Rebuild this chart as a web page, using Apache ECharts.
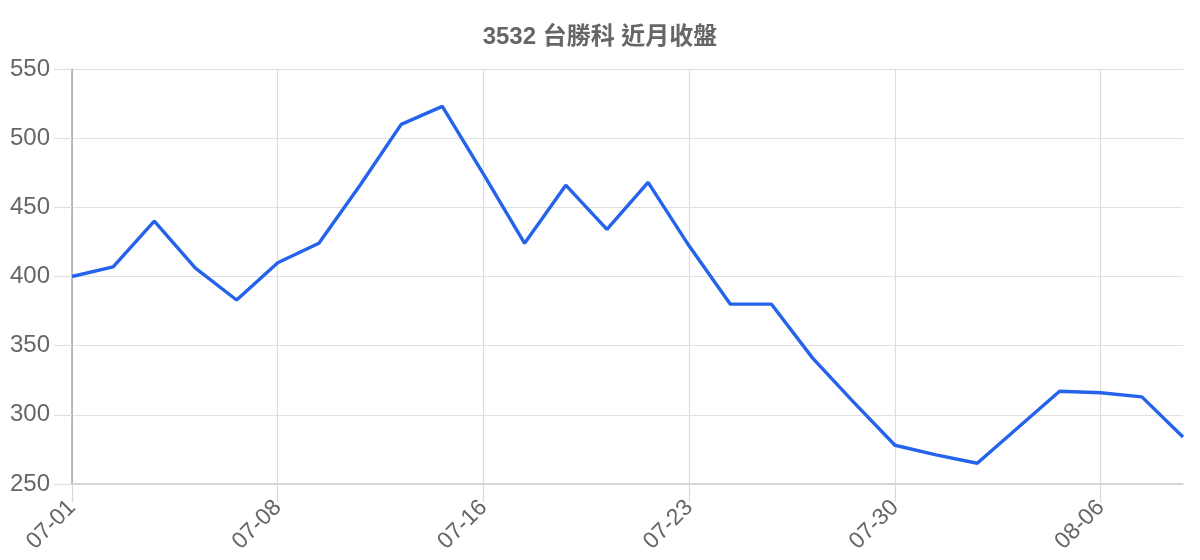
<!DOCTYPE html>
<html>
<head>
<meta charset="utf-8">
<script src="https://cdn.jsdelivr.net/npm/echarts@6/dist/echarts.min.js"></script>
<style>
  html, body { margin: 0; padding: 0; background: #fff; }
  #main { width: 1200px; height: 560px; }
</style>
</head>
<body>
<div id="main"></div>
<script>
// 交易日與收盤價
var dates = ['07-01', '07-02', '07-03', '07-04', '07-07', '07-08', '07-09', '07-10', '07-11', '07-14',
             '07-16', '07-17', '07-18', '07-21', '07-22', '07-23', '07-24', '07-25', '07-28', '07-29',
             '07-30', '07-31', '08-01', '08-04', '08-05', '08-06', '08-07', '08-08'];
var closes = [400, 407, 440, 406, 383, 410, 424, 466, 510, 523,
              474, 424, 466, 434, 468, 422, 380, 380, 341, 309,
              278, 271, 265, 291, 317, 316, 313, 284];
var yTicks = [250, 300, 350, 400, 450, 500, 550];

var font = '"Liberation Sans", Arial, "Noto Sans CJK TC", sans-serif';

var myChart = echarts.init(document.getElementById('main'));

var option = {
  animation: false,
  textStyle: { fontFamily: font },
  title: {
    text: '3532 台勝科 近月收盤',
    left: 'center',
    top: 20,
    textStyle: { fontSize: 24, fontWeight: 'bold', color: '#666', fontFamily: font }
  },
  grid: { left: 72, right: 17, top: 69, bottom: 76, containLabel: false },
  xAxis: {
    type: 'category',
    data: dates,
    boundaryGap: false,
    axisLine: { lineStyle: { color: '#ccc', width: 1.5 } },
    axisTick: { show: true, interval: 4, length: 18, lineStyle: { color: '#d8d8d8', width: 1.2 } },
    axisLabel: { interval: 4, rotate: 45, fontSize: 23, color: '#666', margin: 20, fontFamily: font },
    splitLine: { show: true, interval: 4, lineStyle: { color: '#ddd', width: 1.2 } }
  },
  yAxis: {
    type: 'value',
    min: yTicks[0],
    max: yTicks[yTicks.length - 1],
    interval: 50,
    axisLine: { show: true, lineStyle: { color: '#aaa', width: 1.5 } },
    axisTick: { show: true, length: 18, lineStyle: { color: '#e0e0e0', width: 1.2 } },
    axisLabel: { fontSize: 24, color: '#666', margin: 22, fontFamily: font },
    splitLine: { lineStyle: { color: '#e0e0e0', width: 1.2 } }
  },
  series: [{
    name: '收盤',
    type: 'line',
    data: closes,
    showSymbol: false,
    lineStyle: { color: '#2563eb', width: 3.4 },
    itemStyle: { color: '#2563eb' }
  }]
};

myChart.setOption(option);
</script>
</body>
</html>
